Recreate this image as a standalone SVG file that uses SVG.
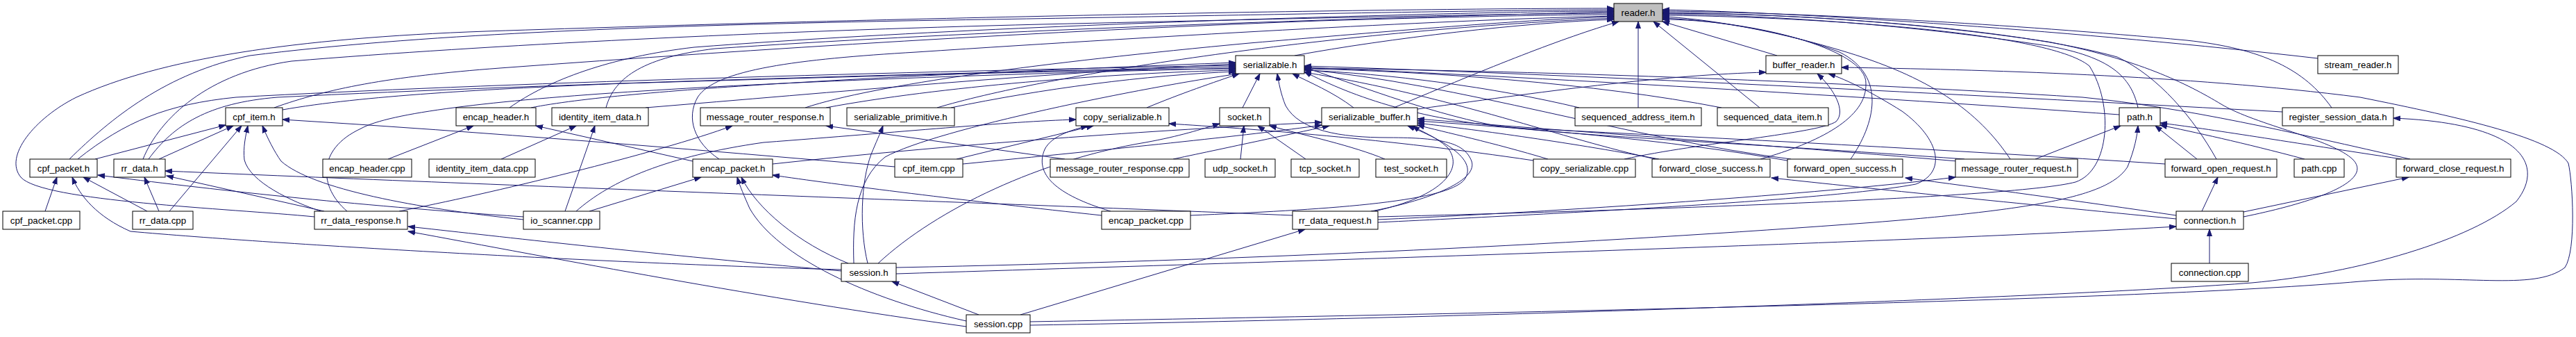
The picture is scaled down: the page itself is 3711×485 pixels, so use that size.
<svg xmlns="http://www.w3.org/2000/svg" width="3711" height="485" viewBox="0 0 3711 485">
<style>
.e{fill:none;stroke:#191970;stroke-width:1}
.n rect{fill:#ffffff;stroke:#000000;stroke-width:1}
.n.root rect{fill:#bfbfbf}
.n text{font-family:"Liberation Sans",Arial,Helvetica,sans-serif;font-size:13.3px;text-anchor:middle;fill:#000000}
</style>
<defs>
<marker id="ah" markerUnits="userSpaceOnUse" markerWidth="11" markerHeight="8" refX="10" refY="4" orient="auto">
<path d="M0,0.5 L10,4 L0,7.5 Z" fill="#191970" stroke="#191970" stroke-width="1"/>
</marker>
</defs>
<rect x="0" y="0" width="3711" height="485" fill="#ffffff"/>
<g id="edges" marker-end="url(#ah)">
<path class="e" d="M453,312 C330,300 60,290 30,255 C5,225 50,170 110,140 C230,85 420,55 700,45 C1300,25 2000,12 2325,12"/>
<path class="e" d="M100,229 C160,170 240,105 360,80 C600,50 900,38 1300,30 C1800,22 2100,15 2325,14"/>
<path class="e" d="M734,155 C790,115 880,82 1000,68 C1300,45 1700,30 2000,22 C2150,18 2250,16 2325,16"/>
<path class="e" d="M873,155 C885,110 930,82 1030,70 C1350,48 1800,30 2325,17"/>
<path class="e" d="M206,229 C230,170 300,105 420,88 C700,65 1100,45 1500,35 C1900,26 2150,20 2325,19"/>
<path class="e" d="M395,155 C470,128 560,110 720,98 C1100,70 1500,45 1900,30 C2100,24 2250,21 2325,21"/>
<path class="e" d="M1036,229 C1000,205 988,170 1005,140 C1030,100 1150,85 1320,75 C1700,50 2100,28 2325,23"/>
<path class="e" d="M1160,155 C1260,122 1500,90 1800,62 C2000,45 2200,28 2325,24"/>
<path class="e" d="M1350,155 C1500,110 1900,45 2325,26"/>
<path class="e" d="M1865,80 C2000,55 2200,32 2325,28"/>
<path class="e" d="M2008,155 C2150,95 2250,55 2332,31"/>
<path class="e" d="M2360,155 L2360,31"/>
<path class="e" d="M2535,155 L2382,31"/>
<path class="e" d="M2560,80 L2395,31"/>
<path class="e" d="M3339,84 C3000,45 2600,18 2395,14"/>
<path class="e" d="M3359,155 C3320,100 3260,70 3150,58 C2900,35 2600,18 2395,16"/>
<path class="e" d="M3193,229 C3160,170 3110,110 3050,82 C2900,40 2600,20 2395,18"/>
<path class="e" d="M3232,312 C3330,292 3420,262 3390,230 C3360,200 3250,180 3200,150 C3150,120 3080,85 2950,60 C2750,30 2550,19 2395,19"/>
<path class="e" d="M3080,155 C3070,110 3040,82 2950,66 C2750,35 2550,22 2395,20"/>
<path class="e" d="M1985,312 C2300,304 2900,286 2990,262 C3040,245 3045,150 3010,95 C2950,45 2600,24 2395,22"/>
<path class="e" d="M2896,229 C2850,160 2780,110 2650,72 C2550,42 2450,26 2395,24"/>
<path class="e" d="M2666,229 C2700,180 2720,110 2650,75 C2560,40 2450,28 2395,26"/>
<path class="e" d="M2536,229 C2620,205 2690,170 2688,120 C2690,70 2520,28 2395,28"/>
<path class="e" d="M407,158 C520,138 700,128 900,120 C1300,108 1600,100 1780,99"/>
<path class="e" d="M112,229 C180,175 240,150 340,140 C700,120 1300,103 1780,94"/>
<path class="e" d="M214,229 C250,180 300,148 400,140 C800,120 1400,104 1780,96"/>
<path class="e" d="M765,155 C900,128 1300,108 1780,90"/>
<path class="e" d="M930,155 C1200,133 1500,105 1780,92"/>
<path class="e" d="M1190,155 C1350,125 1600,105 1780,101"/>
<path class="e" d="M1370,155 C1500,128 1650,108 1780,103"/>
<path class="e" d="M500,304 C460,270 455,215 520,185 C600,140 1100,115 1780,98"/>
<path class="e" d="M1230,379 C1228,320 1232,260 1275,226 C1350,185 1650,125 1785,106"/>
<path class="e" d="M1652,155 C1700,135 1750,118 1785,106"/>
<path class="e" d="M1790,155 L1815,106"/>
<path class="e" d="M1950,155 C1920,132 1885,118 1862,106"/>
<path class="e" d="M1975,304 C2050,290 2130,262 2120,232 C2110,206 2080,198 2000,198 C1930,198 1872,188 1852,152 C1845,135 1842,118 1840,106"/>
<path class="e" d="M2275,155 C2150,125 2000,106 1879,101"/>
<path class="e" d="M2480,155 C2300,120 2050,102 1879,99"/>
<path class="e" d="M3053,165 C2700,140 2200,110 1879,97"/>
<path class="e" d="M3288,161 C2900,140 2300,108 1879,95"/>
<path class="e" d="M3119,236 C2800,215 2500,200 2200,185 C2050,175 1950,140 1879,103"/>
<path class="e" d="M3472,229 C3300,190 3150,155 3000,140 C2600,115 2200,102 1879,98"/>
<path class="e" d="M2385,229 C2250,200 2100,140 1879,104"/>
<path class="e" d="M2580,229 C2350,200 2100,120 1879,100"/>
<path class="e" d="M2830,229 C2500,205 2250,195 2150,180 C2050,160 1950,120 1879,97"/>
<path class="e" d="M2042,157 C2250,128 2400,108 2544,104"/>
<path class="e" d="M2340,229 C2450,205 2620,192 2645,175 C2660,160 2642,128 2618,106"/>
<path class="e" d="M1985,320 C2300,305 2650,286 2760,265 C2805,248 2795,200 2740,160 C2700,135 2662,115 2634,106"/>
<path class="e" d="M1484,463 C2200,450 3100,432 3400,405 C3550,393 3650,420 3695,385 C3712,360 3706,260 3700,235 C3680,200 3550,170 3400,140 C3150,108 2850,100 2653,97"/>
<path class="e" d="M1484,468 C2200,456 3000,426 3244,407 C3400,393 3560,345 3625,290 C3665,240 3640,178 3448,170"/>
<path class="e" d="M137,229 L325,180"/>
<path class="e" d="M229,229 L336,181"/>
<path class="e" d="M244,304 L348,181"/>
<path class="e" d="M462,304 C420,290 360,262 352,230 C350,212 354,195 357,181"/>
<path class="e" d="M754,316 C600,300 450,272 405,232 C395,218 385,198 378,181"/>
<path class="e" d="M1289,240 C1000,215 700,190 407,172"/>
<path class="e" d="M559,229 L682,181"/>
<path class="e" d="M998,232 L772,181"/>
<path class="e" d="M722,229 L830,181"/>
<path class="e" d="M814,304 L857,181"/>
<path class="e" d="M575,304 C700,280 950,220 1055,181"/>
<path class="e" d="M1534,229 L1190,181"/>
<path class="e" d="M1250,379 C1238,330 1240,262 1255,222 C1262,205 1268,192 1272,181"/>
<path class="e" d="M2209,231 C2000,200 1800,185 1684,178"/>
<path class="e" d="M1600,304 C1520,280 1490,250 1505,215 C1515,195 1545,187 1567,181"/>
<path class="e" d="M1378,229 L1575,181"/>
<path class="e" d="M830,304 C880,260 960,225 1100,205 C1300,190 1450,175 1550,172"/>
<path class="e" d="M1787,229 L1792,181"/>
<path class="e" d="M1881,229 L1812,181"/>
<path class="e" d="M1995,229 C1950,210 1880,195 1829,181"/>
<path class="e" d="M1265,379 C1350,300 1500,230 1650,205 C1700,196 1730,186 1757,178"/>
<path class="e" d="M1387,236 C1600,215 1800,195 1904,180"/>
<path class="e" d="M1113,236 C1400,205 1700,185 1904,176"/>
<path class="e" d="M1690,229 C1780,210 1850,195 1915,181"/>
<path class="e" d="M1980,304 C2080,282 2110,242 2085,212 C2068,196 2048,190 2035,181"/>
<path class="e" d="M1715,310 C1900,302 2085,292 2110,258 C2130,228 2075,200 2028,181"/>
<path class="e" d="M2230,229 C2150,205 2080,190 2042,180"/>
<path class="e" d="M2390,229 C2250,203 2120,186 2042,177"/>
<path class="e" d="M2580,232 C2400,200 2200,185 2042,174"/>
<path class="e" d="M2820,232 C2500,205 2250,188 2042,171"/>
<path class="e" d="M467,304 L240,253"/>
<path class="e" d="M1862,310 C1500,295 800,270 238,246"/>
<path class="e" d="M229,304 L208,255"/>
<path class="e" d="M65,304 L82,255"/>
<path class="e" d="M212,304 L120,255"/>
<path class="e" d="M1212,388 C900,380 400,352 188,333 C140,312 115,282 104,255"/>
<path class="e" d="M754,312 C500,295 300,272 141,252"/>
<path class="e" d="M1587,310 C1400,290 1200,265 1113,252"/>
<path class="e" d="M849,304 L1010,255"/>
<path class="e" d="M1222,379 C1150,350 1090,300 1068,255"/>
<path class="e" d="M1392,462 C1250,430 1120,370 1080,300 C1072,282 1066,268 1062,255"/>
<path class="e" d="M2932,229 L3055,181"/>
<path class="e" d="M1291,385 C1800,375 2300,350 2700,320 C2950,300 3040,280 3065,240 C3075,215 3079,195 3080,181"/>
<path class="e" d="M3165,229 L3105,181"/>
<path class="e" d="M3460,229 C3300,205 3180,185 3112,177"/>
<path class="e" d="M3320,229 C3230,205 3160,190 3112,180"/>
<path class="e" d="M1985,316 C2300,302 2650,276 2817,255"/>
<path class="e" d="M3172,304 L3195,255"/>
<path class="e" d="M3232,305 L3470,255"/>
<path class="e" d="M3135,310 C3000,290 2850,270 2745,256"/>
<path class="e" d="M3135,315 C2900,292 2700,272 2552,256"/>
<path class="e" d="M3183,379 L3183,330"/>
<path class="e" d="M1291,394 C2000,372 2800,346 3135,326"/>
<path class="e" d="M1212,390 C900,362 700,338 588,326"/>
<path class="e" d="M1392,470 C1100,430 800,372 588,333"/>
<path class="e" d="M1470,453 L1880,330"/>
<path class="e" d="M1410,453 L1285,405"/>
</g>
<g id="node_reader_h" class="n root"><rect x="2325" y="5" width="70" height="26"/><text x="2360" y="22.5">reader.h</text></g>
<g id="node_serializable_h" class="n"><rect x="1780" y="80" width="99" height="26"/><text x="1829.5" y="97.5">serializable.h</text></g>
<g id="node_buffer_reader_h" class="n"><rect x="2544" y="80" width="109" height="26"/><text x="2598.5" y="97.5">buffer_reader.h</text></g>
<g id="node_stream_reader_h" class="n"><rect x="3339" y="80" width="116" height="26"/><text x="3397" y="97.5">stream_reader.h</text></g>
<g id="node_cpf_item_h" class="n"><rect x="325" y="155" width="82" height="26"/><text x="366" y="172.5">cpf_item.h</text></g>
<g id="node_encap_header_h" class="n"><rect x="657" y="155" width="115" height="26"/><text x="714.5" y="172.5">encap_header.h</text></g>
<g id="node_identity_item_data_h" class="n"><rect x="795" y="155" width="139" height="26"/><text x="864.5" y="172.5">identity_item_data.h</text></g>
<g id="node_message_router_response_h" class="n"><rect x="1009" y="155" width="187" height="26"/><text x="1102.5" y="172.5">message_router_response.h</text></g>
<g id="node_serializable_primitive_h" class="n"><rect x="1220" y="155" width="155" height="26"/><text x="1297.5" y="172.5">serializable_primitive.h</text></g>
<g id="node_copy_serializable_h" class="n"><rect x="1550" y="155" width="134" height="26"/><text x="1617" y="172.5">copy_serializable.h</text></g>
<g id="node_socket_h" class="n"><rect x="1757" y="155" width="72" height="26"/><text x="1793" y="172.5">socket.h</text></g>
<g id="node_serializable_buffer_h" class="n"><rect x="1904" y="155" width="138" height="26"/><text x="1973" y="172.5">serializable_buffer.h</text></g>
<g id="node_sequenced_address_item_h" class="n"><rect x="2269" y="155" width="182" height="26"/><text x="2360" y="172.5">sequenced_address_item.h</text></g>
<g id="node_sequenced_data_item_h" class="n"><rect x="2474" y="155" width="160" height="26"/><text x="2554" y="172.5">sequenced_data_item.h</text></g>
<g id="node_path_h" class="n"><rect x="3053" y="155" width="59" height="26"/><text x="3082.5" y="172.5">path.h</text></g>
<g id="node_register_session_data_h" class="n"><rect x="3288" y="155" width="160" height="26"/><text x="3368" y="172.5">register_session_data.h</text></g>
<g id="node_cpf_packet_h" class="n"><rect x="43" y="229" width="97" height="26"/><text x="91.5" y="246.5">cpf_packet.h</text></g>
<g id="node_rr_data_h" class="n"><rect x="164" y="229" width="74" height="26"/><text x="201" y="246.5">rr_data.h</text></g>
<g id="node_encap_header_cpp" class="n"><rect x="465" y="229" width="128" height="26"/><text x="529" y="246.5">encap_header.cpp</text></g>
<g id="node_identity_item_data_cpp" class="n"><rect x="618" y="229" width="153" height="26"/><text x="694.5" y="246.5">identity_item_data.cpp</text></g>
<g id="node_encap_packet_h" class="n"><rect x="998" y="229" width="115" height="26"/><text x="1055.5" y="246.5">encap_packet.h</text></g>
<g id="node_cpf_item_cpp" class="n"><rect x="1289" y="229" width="98" height="26"/><text x="1338" y="246.5">cpf_item.cpp</text></g>
<g id="node_message_router_response_cpp" class="n"><rect x="1513" y="229" width="200" height="26"/><text x="1613" y="246.5">message_router_response.cpp</text></g>
<g id="node_udp_socket_h" class="n"><rect x="1736" y="229" width="101" height="26"/><text x="1786.5" y="246.5">udp_socket.h</text></g>
<g id="node_tcp_socket_h" class="n"><rect x="1860" y="229" width="98" height="26"/><text x="1909" y="246.5">tcp_socket.h</text></g>
<g id="node_test_socket_h" class="n"><rect x="1982" y="229" width="102" height="26"/><text x="2033" y="246.5">test_socket.h</text></g>
<g id="node_copy_serializable_cpp" class="n"><rect x="2209" y="229" width="147" height="26"/><text x="2282.5" y="246.5">copy_serializable.cpp</text></g>
<g id="node_forward_close_success_h" class="n"><rect x="2380" y="229" width="170" height="26"/><text x="2465" y="246.5">forward_close_success.h</text></g>
<g id="node_forward_open_success_h" class="n"><rect x="2575" y="229" width="166" height="26"/><text x="2658" y="246.5">forward_open_success.h</text></g>
<g id="node_message_router_request_h" class="n"><rect x="2817" y="229" width="176" height="26"/><text x="2905" y="246.5">message_router_request.h</text></g>
<g id="node_forward_open_request_h" class="n"><rect x="3119" y="229" width="161" height="26"/><text x="3199.5" y="246.5">forward_open_request.h</text></g>
<g id="node_path_cpp" class="n"><rect x="3305" y="229" width="72" height="26"/><text x="3341" y="246.5">path.cpp</text></g>
<g id="node_forward_close_request_h" class="n"><rect x="3452" y="229" width="165" height="26"/><text x="3534.5" y="246.5">forward_close_request.h</text></g>
<g id="node_cpf_packet_cpp" class="n"><rect x="4" y="304" width="111" height="26"/><text x="59.5" y="321.5">cpf_packet.cpp</text></g>
<g id="node_rr_data_cpp" class="n"><rect x="191" y="304" width="87" height="26"/><text x="234.5" y="321.5">rr_data.cpp</text></g>
<g id="node_rr_data_response_h" class="n"><rect x="453" y="304" width="134" height="26"/><text x="520" y="321.5">rr_data_response.h</text></g>
<g id="node_io_scanner_cpp" class="n"><rect x="754" y="304" width="110" height="26"/><text x="809" y="321.5">io_scanner.cpp</text></g>
<g id="node_encap_packet_cpp" class="n"><rect x="1587" y="304" width="128" height="26"/><text x="1651" y="321.5">encap_packet.cpp</text></g>
<g id="node_rr_data_request_h" class="n"><rect x="1862" y="304" width="123" height="26"/><text x="1923.5" y="321.5">rr_data_request.h</text></g>
<g id="node_connection_h" class="n"><rect x="3135" y="304" width="97" height="26"/><text x="3183.5" y="321.5">connection.h</text></g>
<g id="node_session_h" class="n"><rect x="1212" y="379" width="79" height="26"/><text x="1251.5" y="396.5">session.h</text></g>
<g id="node_connection_cpp" class="n"><rect x="3128" y="379" width="111" height="26"/><text x="3183.5" y="396.5">connection.cpp</text></g>
<g id="node_session_cpp" class="n"><rect x="1392" y="453" width="92" height="26"/><text x="1438" y="470.5">session.cpp</text></g>
</svg>
